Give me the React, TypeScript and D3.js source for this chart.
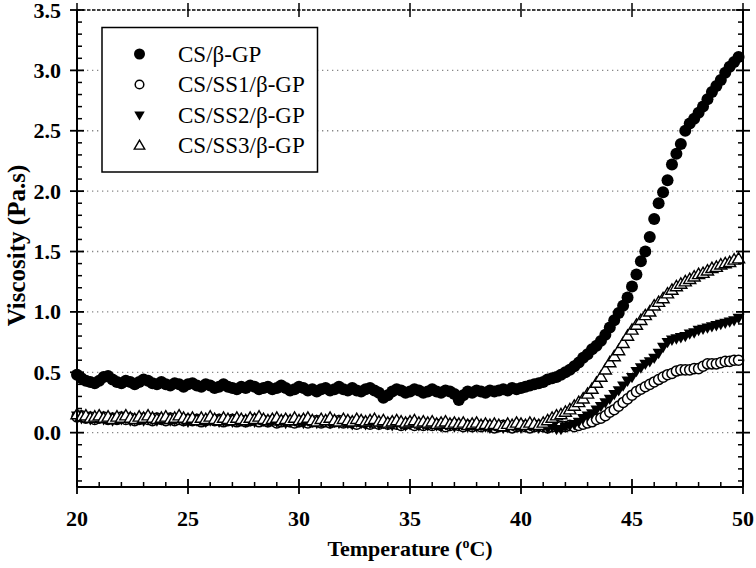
import React from "react";
import * as d3 from "d3";

const temperature = [
  20.0, 20.2, 20.4, 20.6, 20.8, 21.0, 21.2, 21.4, 21.6, 21.8,
  22.0, 22.2, 22.4, 22.6, 22.8, 23.0, 23.2, 23.4, 23.6, 23.8,
  24.0, 24.2, 24.4, 24.6, 24.8, 25.0, 25.2, 25.4, 25.6, 25.8,
  26.0, 26.2, 26.4, 26.6, 26.8, 27.0, 27.2, 27.4, 27.6, 27.8,
  28.0, 28.2, 28.4, 28.6, 28.8, 29.0, 29.2, 29.4, 29.6, 29.8,
  30.0, 30.2, 30.4, 30.6, 30.8, 31.0, 31.2, 31.4, 31.6, 31.8,
  32.0, 32.2, 32.4, 32.6, 32.8, 33.0, 33.2, 33.4, 33.6, 33.8,
  34.0, 34.2, 34.4, 34.6, 34.8, 35.0, 35.2, 35.4, 35.6, 35.8,
  36.0, 36.2, 36.4, 36.6, 36.8, 37.0, 37.2, 37.4, 37.6, 37.8,
  38.0, 38.2, 38.4, 38.6, 38.8, 39.0, 39.2, 39.4, 39.6, 39.8,
  40.0, 40.2, 40.4, 40.6, 40.8, 41.0, 41.2, 41.4, 41.6, 41.8,
  42.0, 42.2, 42.4, 42.6, 42.8, 43.0, 43.2, 43.4, 43.6, 43.8,
  44.0, 44.2, 44.4, 44.6, 44.8, 45.0, 45.2, 45.4, 45.6, 45.8,
  46.0, 46.2, 46.4, 46.6, 46.8, 47.0, 47.2, 47.4, 47.6, 47.8,
  48.0, 48.2, 48.4, 48.6, 48.8, 49.0, 49.2, 49.4, 49.6, 49.8,
];

const csGP = [
  0.48, 0.45, 0.43, 0.42, 0.41, 0.43, 0.46, 0.47, 0.44, 0.42,
  0.41, 0.43, 0.42, 0.40, 0.42, 0.44, 0.43, 0.41, 0.40, 0.42,
  0.40, 0.39, 0.41, 0.40, 0.38, 0.40, 0.41, 0.39, 0.38, 0.40,
  0.39, 0.37, 0.38, 0.40, 0.38, 0.37, 0.36, 0.38, 0.37, 0.39,
  0.38, 0.36, 0.37, 0.38, 0.36, 0.37, 0.39, 0.37, 0.35, 0.36,
  0.38, 0.37, 0.35, 0.36, 0.34, 0.36, 0.37, 0.35, 0.36, 0.38,
  0.36, 0.35, 0.37, 0.35, 0.34, 0.36, 0.37, 0.35, 0.33, 0.29,
  0.31, 0.34, 0.36, 0.35, 0.33, 0.34, 0.36, 0.35, 0.33, 0.34,
  0.36, 0.34, 0.33, 0.35, 0.34, 0.32, 0.27, 0.31, 0.34, 0.33,
  0.35, 0.34, 0.33, 0.35, 0.34, 0.35, 0.36, 0.35, 0.37, 0.36,
  0.37, 0.38, 0.39, 0.40, 0.41, 0.42, 0.44, 0.45, 0.46, 0.48,
  0.50, 0.52, 0.55, 0.58, 0.62, 0.65, 0.69, 0.72, 0.76, 0.81,
  0.87, 0.93, 0.99, 1.05, 1.12, 1.21, 1.31, 1.42, 1.50, 1.62,
  1.77, 1.90, 1.99, 2.09, 2.22, 2.31, 2.39, 2.50, 2.56, 2.60,
  2.65, 2.70, 2.76, 2.82, 2.87, 2.92, 2.98, 3.03, 3.07, 3.11,
];

const csSS1GP = [
  0.13, 0.14, 0.12, 0.13, 0.11, 0.12, 0.13, 0.11, 0.12, 0.11,
  0.13, 0.11, 0.12, 0.10, 0.11, 0.12, 0.11, 0.10, 0.12, 0.11,
  0.10, 0.12, 0.10, 0.11, 0.10, 0.11, 0.10, 0.11, 0.09, 0.10,
  0.11, 0.10, 0.11, 0.09, 0.10, 0.11, 0.09, 0.10, 0.09, 0.10,
  0.11, 0.09, 0.10, 0.09, 0.10, 0.08, 0.09, 0.10, 0.09, 0.08,
  0.09, 0.10, 0.08, 0.09, 0.10, 0.08, 0.09, 0.08, 0.09, 0.10,
  0.08, 0.09, 0.08, 0.07, 0.09, 0.08, 0.07, 0.08, 0.07, 0.08,
  0.07, 0.08, 0.07, 0.06, 0.07, 0.08, 0.06, 0.07, 0.06, 0.07,
  0.06, 0.07, 0.06, 0.05, 0.06, 0.07, 0.06, 0.05, 0.06, 0.05,
  0.06, 0.05, 0.06, 0.05, 0.04, 0.05, 0.06, 0.05, 0.04, 0.05,
  0.06, 0.05, 0.04, 0.05, 0.06, 0.05, 0.04, 0.05, 0.06, 0.05,
  0.05, 0.06, 0.05, 0.06, 0.07, 0.08, 0.09, 0.11, 0.12, 0.14,
  0.17, 0.19, 0.22, 0.25, 0.28, 0.31, 0.34, 0.36, 0.38, 0.40,
  0.42, 0.44, 0.46, 0.48, 0.49, 0.51, 0.52, 0.52, 0.52, 0.53,
  0.53, 0.55, 0.57, 0.57, 0.57, 0.58, 0.59, 0.59, 0.60, 0.60,
];

const csSS2GP = [
  0.14, 0.12, 0.13, 0.11, 0.12, 0.13, 0.11, 0.12, 0.10, 0.12,
  0.11, 0.12, 0.10, 0.11, 0.12, 0.10, 0.12, 0.11, 0.10, 0.11,
  0.12, 0.10, 0.11, 0.12, 0.10, 0.09, 0.11, 0.10, 0.11, 0.09,
  0.10, 0.11, 0.09, 0.10, 0.11, 0.09, 0.10, 0.11, 0.09, 0.10,
  0.09, 0.11, 0.10, 0.09, 0.10, 0.09, 0.10, 0.08, 0.09, 0.10,
  0.09, 0.08, 0.10, 0.09, 0.08, 0.09, 0.10, 0.08, 0.09, 0.08,
  0.09, 0.08, 0.07, 0.09, 0.08, 0.07, 0.08, 0.09, 0.07, 0.08,
  0.07, 0.06, 0.08, 0.07, 0.06, 0.07, 0.08, 0.06, 0.07, 0.06,
  0.07, 0.06, 0.05, 0.07, 0.06, 0.05, 0.06, 0.07, 0.05, 0.06,
  0.05, 0.06, 0.05, 0.04, 0.06, 0.05, 0.04, 0.05, 0.06, 0.05,
  0.04, 0.05, 0.06, 0.05, 0.04, 0.05, 0.04, 0.05, 0.03, 0.03,
  0.05, 0.06, 0.07, 0.09, 0.12, 0.14, 0.16, 0.19, 0.22, 0.25,
  0.28, 0.32, 0.35, 0.39, 0.43, 0.46, 0.51, 0.54, 0.57, 0.59,
  0.62, 0.66, 0.71, 0.75, 0.77, 0.78, 0.79, 0.80, 0.82, 0.83,
  0.85, 0.86, 0.87, 0.88, 0.89, 0.90, 0.91, 0.92, 0.93, 0.95,
];

const csSS3GP = [
  0.15, 0.13, 0.14, 0.12, 0.13, 0.14, 0.12, 0.13, 0.11, 0.13,
  0.12, 0.14, 0.12, 0.11, 0.13, 0.12, 0.14, 0.12, 0.11, 0.12,
  0.13, 0.11, 0.12, 0.14, 0.12, 0.11, 0.12, 0.10, 0.12, 0.11,
  0.13, 0.11, 0.10, 0.12, 0.11, 0.10, 0.12, 0.11, 0.10, 0.12,
  0.11, 0.13, 0.11, 0.10, 0.11, 0.12, 0.10, 0.11, 0.10, 0.12,
  0.10, 0.11, 0.12, 0.10, 0.09, 0.11, 0.10, 0.12, 0.10, 0.09,
  0.11, 0.10, 0.09, 0.11, 0.10, 0.09, 0.10, 0.11, 0.09, 0.10,
  0.08, 0.09, 0.10, 0.09, 0.08, 0.09, 0.10, 0.08, 0.09, 0.08,
  0.09, 0.07, 0.08, 0.09, 0.07, 0.08, 0.07, 0.08, 0.06, 0.07,
  0.08, 0.06, 0.07, 0.06, 0.07, 0.06, 0.05, 0.07, 0.06, 0.08,
  0.07, 0.06, 0.08, 0.07, 0.06, 0.08, 0.10, 0.12, 0.14, 0.15,
  0.17, 0.19, 0.22, 0.25, 0.28, 0.32, 0.36, 0.41, 0.46, 0.52,
  0.58, 0.63, 0.68, 0.74, 0.80, 0.85, 0.89, 0.93, 0.97, 1.00,
  1.05, 1.08, 1.11, 1.15, 1.18, 1.21, 1.23, 1.25, 1.27, 1.29,
  1.31, 1.32, 1.34, 1.36, 1.37, 1.39, 1.40, 1.41, 1.43, 1.44,
];

const seriesNames = ["CS/β-GP", "CS/SS1/β-GP", "CS/SS2/β-GP", "CS/SS3/β-GP"];
const seriesValues = [csGP, csSS1GP, csSS2GP, csSS3GP];
const seriesMarkers = ["filledCircle", "openCircle", "filledDown", "openUp"];

const xTickValues = [20, 25, 30, 35, 40, 45, 50];
const yTickValues = [0.0, 0.5, 1.0, 1.5, 2.0, 2.5, 3.0, 3.5];
const gridValues = [0.0, 0.5, 1.0, 1.5, 2.0, 2.5, 3.0];
const xMinorValues = d3.range(21, 50, 1).filter((v) => v % 5 !== 0);
const yMinorValues = d3.range(-4, 35, 1).filter((v) => v % 5 !== 0).map((v) => v / 10);

const FONT = "'Liberation Serif', 'Times New Roman', serif";

const left = 77, right = 743, top = 10, bottom = 487;
const x = d3.scaleLinear().domain([20, 50]).range([left, right]);
const y = d3.scaleLinear().domain([-0.45, 3.5]).range([bottom, top]);

function Marker({ kind, cx, cy, size }: { kind: string; cx: number; cy: number; size: number }) {
  const r = size / 2;
  if (kind === "filledCircle") return <circle cx={cx} cy={cy} r={r} fill="#000" />;
  if (kind === "openCircle")
    return <circle cx={cx} cy={cy} r={r - 0.7} fill="#fff" stroke="#000" strokeWidth={1.5} />;
  const h = r * 1.8;
  const w = r * 1.05;
  if (kind === "filledDown") {
    const p = `M${cx - w},${cy - h * 0.4}L${cx + w},${cy - h * 0.4}L${cx},${cy + h * 0.6}Z`;
    return <path d={p} fill="#000" />;
  }
  const p = `M${cx - w},${cy + h * 0.4}L${cx + w},${cy + h * 0.4}L${cx},${cy - h * 0.6}Z`;
  return <path d={p} fill="#fff" stroke="#000" strokeWidth={1.4} strokeLinejoin="miter" />;
}

export default function App() {
  return (
    <svg width={756} height={568} style={{ display: "block", position: "absolute", left: 0, top: 0 }}>
      <rect width={756} height={568} fill="#fff" />
      {gridValues.map((v) => (
        <line key={"g" + v} x1={left} x2={right} y1={y(v)} y2={y(v)} stroke="#888" strokeWidth={1.3} strokeDasharray="1.3,3.7" />
      ))}
      {seriesValues.map((vals, si) => (
        <g key={"s" + si}>
          {vals.map((v, i) => (
            <Marker key={i} kind={seriesMarkers[si]} cx={x(temperature[i])} cy={y(v)} size={si === 0 ? 12 : 11.5} />
          ))}
        </g>
      ))}
      <line x1={left} x2={right} y1={top} y2={top} stroke="#000" strokeWidth={1.5} strokeDasharray="3.5,1.5" />
      <line x1={left} x2={right} y1={bottom} y2={bottom} stroke="#000" strokeWidth={2} />
      <line x1={left} x2={left} y1={top} y2={bottom} stroke="#000" strokeWidth={2} />
      <line x1={right} x2={right} y1={top} y2={bottom} stroke="#000" strokeWidth={2} />
      {xTickValues.map((v) => (
        <g key={"xt" + v}>
          <line x1={x(v)} x2={x(v)} y1={bottom - 8} y2={bottom + 7} stroke="#000" strokeWidth={1.8} />
          <line x1={x(v)} x2={x(v)} y1={top - 7} y2={top + 7} stroke="#000" strokeWidth={1.5} />
          <text x={x(v)} y={526} textAnchor="middle" fontFamily={FONT} fontWeight="bold" fontSize={22}>{v}</text>
        </g>
      ))}
      {xMinorValues.map((v) => (
        <line key={"xm" + v} x1={x(v)} x2={x(v)} y1={bottom - 5} y2={bottom} stroke="#000" strokeWidth={1.5} />
      ))}
      {yTickValues.map((v) => (
        <g key={"yt" + v}>
          <line x1={left - 7} x2={left + 7} y1={y(v)} y2={y(v)} stroke="#000" strokeWidth={1.8} />
          <line x1={right - 7} x2={right + 7} y1={y(v)} y2={y(v)} stroke="#000" strokeWidth={1.8} />
          <text x={61} y={y(v) + 7.5} textAnchor="end" fontFamily={FONT} fontWeight="bold" fontSize={22}>{v.toFixed(1)}</text>
        </g>
      ))}
      {yMinorValues.map((v) => (
        <g key={"ym" + v}>
          <line x1={left} x2={left + 5} y1={y(v)} y2={y(v)} stroke="#000" strokeWidth={1.5} />
          <line x1={right - 5} x2={right} y1={y(v)} y2={y(v)} stroke="#000" strokeWidth={1.5} />
        </g>
      ))}
      <text x={(left + right) / 2} y={556} textAnchor="middle" fontFamily={FONT} fontWeight="bold" fontSize={22}>
        Temperature (<tspan fontSize={14} dy={-8}>o</tspan><tspan dy={8}>C)</tspan>
      </text>
      <text transform={`translate(25,${(top + bottom) / 2 - 3}) rotate(-90)`} textAnchor="middle" fontFamily={FONT} fontWeight="bold" fontSize={25}>
        Viscosity (Pa.s)
      </text>
      <rect x={102} y={27.5} width={215.5} height={144.5} fill="#fff" stroke="#000" strokeWidth={1.5} />
      {seriesNames.map((name, i) => {
        const cy = 54 + i * 30.5;
        return (
          <g key={"l" + i}>
            <Marker kind={seriesMarkers[i]} cx={139.5} cy={cy} size={i === 0 ? 11 : 10} />
            <text x={178} y={cy} dy="0.33em" fontFamily={FONT} fontSize={23}>{name}</text>
          </g>
        );
      })}
    </svg>
  );
}
